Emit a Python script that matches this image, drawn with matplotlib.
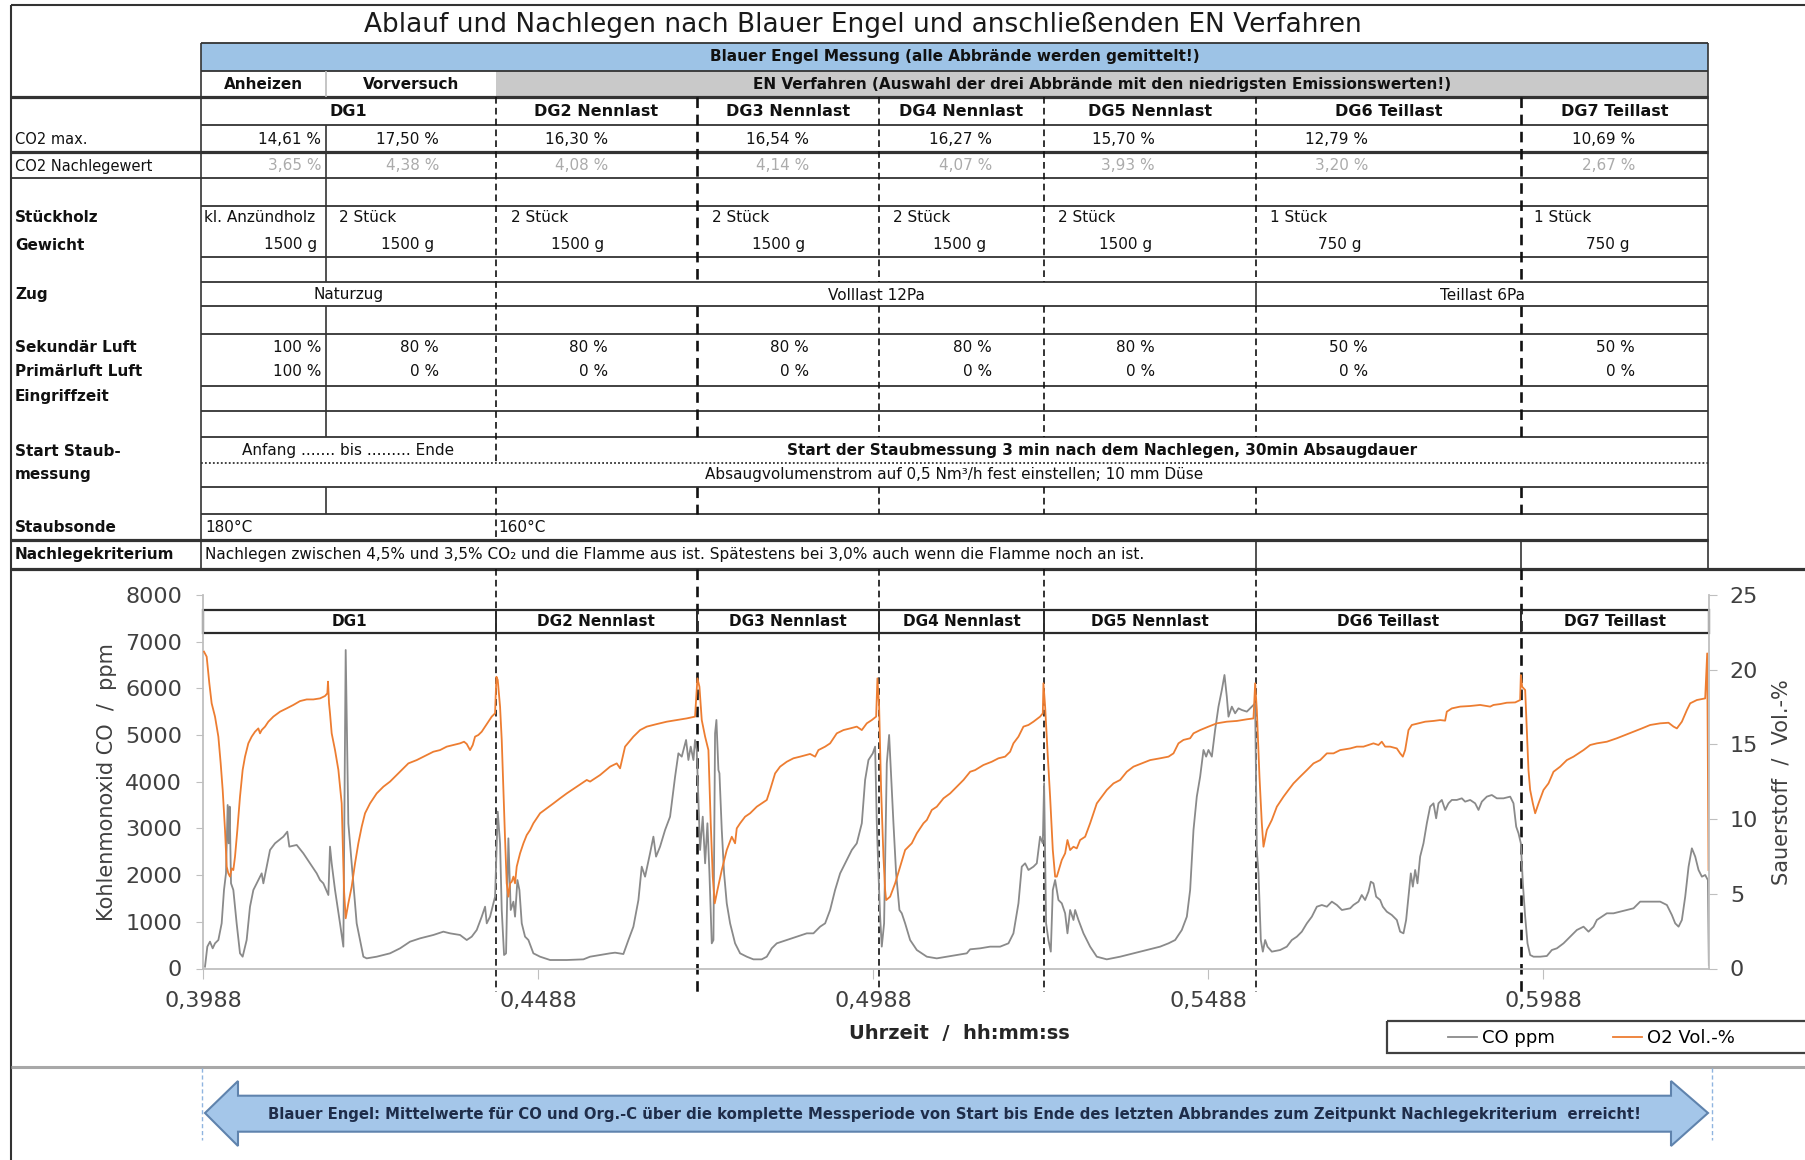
"""Ablauf und Nachlegen nach Blauer Engel / EN Verfahren - Tabelle + CO/O2 Verlauf"""
import matplotlib
matplotlib.use("Agg")
import matplotlib.pyplot as plt
from matplotlib.patches import Rectangle, Polygon
from matplotlib.ticker import FuncFormatter, MultipleLocator

plt.rcParams["font.family"] = ["DejaVu Sans"]

# --- Messwerte, Zeit in Minuten nach 0,3988 (Excel-Tagesbruchteil) ---
T0 = 0.3988

co_min = [0.43, 0.93, 1.50, 2.08, 2.58, 3.30, 4.01, 4.51, 4.94, 5.30, 5.52, 5.73, 6.02, 6.52, 7.23, 7.95, 8.52,
          9.38, 10.10, 10.82, 11.89, 12.61, 12.97, 13.68, 14.40, 15.47, 17.27, 18.12, 18.55, 20.13, 21.56, 23.00,
          24.43, 25.15, 25.86, 26.94, 27.29, 27.65, 28.37, 29.44, 30.16, 30.66, 31.23, 33.02, 34.46, 35.17, 37.32,
          40.19, 42.34, 44.49, 46.64, 49.50, 51.65, 53.09, 55.23, 56.67, 57.74, 58.82, 59.89, 60.61, 60.97, 61.68,
          62.40, 62.76, 63.33, 63.83, 64.19, 64.69, 65.12, 65.62, 66.12, 66.70, 67.05, 67.56, 67.99, 68.49, 69.20,
          69.92, 70.99, 72.43, 74.58, 78.16, 81.74,
          83.17, 85.32, 87.47, 88.54, 90.33, 91.41, 92.48, 93.56, 94.27, 94.99, 96.06, 96.78, 97.35, 98.21, 99.29,
          100.36, 101.44, 102.15, 102.87, 103.80, 104.30, 104.80, 105.38, 105.73, 106.09, 106.45, 106.81, 107.38,
          107.89, 108.39, 108.82, 109.32, 109.68, 110.03, 110.32, 110.75, 110.97, 111.47, 111.97, 112.54, 113.26,
          114.33, 115.41, 116.84, 118.27, 120.06, 121.14, 122.21, 123.29, 125.44, 127.59, 129.74, 131.17, 132.60,
          133.68, 134.75, 135.82, 136.90, 138.33, 139.41, 140.48, 141.56, 142.27, 142.99, 143.92, 144.42, 144.78,
          145.14, 145.50, 145.85, 146.35, 146.93, 147.43, 147.86, 148.36, 148.93, 149.65, 150.15, 150.87, 151.94,
          153.38, 155.53, 157.67, 159.82, 161.97, 164.12,
          164.83, 166.98, 169.13, 171.28, 173.07, 174.14, 175.22, 175.93, 176.65, 177.37, 178.44, 179.16, 179.87,
          180.45, 180.73, 181.16, 181.66, 182.17, 182.60, 183.10, 183.81, 184.53, 185.25, 185.75, 186.32, 187.04,
          187.40, 188.11, 189.19, 190.62, 192.05, 194.20, 197.07, 199.93, 202.80, 205.66, 207.46, 208.89, 210.32,
          211.40, 212.11, 212.83, 213.54, 214.26, 214.98, 215.55, 216.05, 216.77, 217.48, 218.20, 218.92, 219.49,
          219.99, 220.35, 221.07, 221.78, 222.50, 223.22, 224.29, 225.36, 226.08, 226.44, 226.80, 227.30, 227.73,
          228.23, 228.73, 229.66, 231.45, 232.88, 233.96, 235.04, 236.11, 237.19, 238.26, 239.34, 240.41, 241.49,
          242.56, 243.64, 244.71, 246.50,
          247.20, 248.28, 248.99, 249.71, 250.43, 250.93, 251.50, 252.08, 252.94, 253.51, 254.37, 255.44, 256.52,
          257.23, 257.95, 258.52, 259.03, 259.53, 259.96, 260.46, 260.96, 261.53, 262.25, 262.97, 263.68, 264.40,
          264.97, 265.47, 266.19, 266.91, 267.62, 268.34, 269.41, 270.49, 271.20, 272.28, 273.35, 274.07, 274.79,
          275.86, 276.93, 278.01, 279.44, 280.88, 281.59, 282.17, 282.67, 283.17, 283.60, 284.10, 284.60, 285.17,
          285.89, 287.32, 288.76, 289.83, 290.91, 292.34, 293.77, 295.21, 296.64, 297.71, 298.79, 299.50, 300.58,
          301.65, 303.08, 304.51, 305.95, 307.38, 308.81, 310.96, 313.11, 314.55, 315.62, 316.34, 317.06, 317.77,
          318.49, 319.21, 319.92, 320.64, 321.35, 322.07, 322.78, 323.36, 323.57]
co_ppm = [39, 468, 575, 432, 539, 610, 967, 1681, 2038, 3502, 2681, 3467, 1824, 1681, 967, 325, 253,
          610, 1324, 1681, 1895, 2038, 1824, 2181, 2538, 2681, 2824, 2931, 2610, 2646, 2467, 2253,
          2038, 1895, 1824, 1574, 2610, 2253, 1681, 967, 468, 6822, 3109, 967, 253, 217, 253,
          325, 432, 575, 646, 718, 789, 753, 718, 610, 682, 825, 1110, 1324, 967, 1110,
          1396, 1539, 3359, 2681, 1253, 289, 325, 2788, 1253, 1432, 1110, 1895, 1681, 967, 682,
          610, 325, 253, 182, 182, 196,
          253, 289, 325, 339, 310, 610, 896, 1467, 2181, 1967, 2467, 2824, 2396, 2610, 2967,
          3252, 4109, 4609, 4538, 4895, 4466, 4752, 4466, 4895, 4681, 3610, 2538, 3252,
          2253, 3110, 2038, 539, 610, 5037, 5323, 4252, 4181, 2967, 2038, 1396, 967,
          539, 325, 253, 196, 196, 253, 432, 539, 610, 682, 753, 753, 896,
          967, 1253, 1681, 2038, 2324, 2538, 2681, 3110, 4038, 4466, 4609, 4752, 3110,
          2038, 1110, 468, 967, 4395, 5002, 4109, 3110, 2038, 1253, 1182, 967, 610,
          396, 253, 217, 253, 289, 325,
          411, 432, 468, 468, 539, 753, 1396, 2181, 2253, 2110, 2181, 2253, 2824,
          2681, 3967, 967, 610, 361, 1681, 1895, 1467, 1396, 1182, 753, 1253, 1039,
          1253, 1039, 753, 468, 253, 196, 253, 325, 396, 468, 539, 610, 825,
          1110, 1681, 2967, 3681, 4109, 4681, 4538, 4681, 4538, 5109, 5609, 5966, 6287,
          5823, 5394, 5609, 5466, 5573, 5537, 5502, 5609, 5680, 2538, 2038, 610, 361,
          610, 468, 361, 396, 468, 610, 682, 789, 967, 1110, 1324, 1360, 1324,
          1432, 1360, 1253, 1289,
          1360, 1432, 1574, 1467, 1646, 1860, 1824, 1539, 1467, 1324, 1217, 1146, 1039,
          789, 753, 1039, 1539, 2038, 1753, 2110, 1824, 2396, 2681, 3110, 3467, 3538,
          3217, 3538, 3610, 3396, 3538, 3610, 3610, 3645, 3574, 3610, 3538, 3396, 3574,
          3681, 3716, 3645, 3645, 3681, 3538, 3038, 2895, 2681, 1824, 1110, 539, 289,
          253, 253, 268, 396, 432, 539, 682, 825, 896, 789, 896, 1039, 1110,
          1182, 1182, 1217, 1253, 1289, 1432, 1432, 1432, 1360, 1146, 967, 896, 1039,
          1539, 2181, 2574, 2396, 2110, 1967, 2003, 1895, 75]

o2_min = [0.21, 0.79, 1.36, 1.86, 2.58, 3.30, 3.80, 4.23, 4.73, 5.09, 5.44, 5.80, 6.16, 6.52, 6.88, 7.38, 7.95,
          8.52, 9.03, 9.74, 10.46, 11.18, 11.89, 12.25, 12.61, 13.33, 14.04, 15.12, 16.55, 17.98, 19.41, 20.85,
          22.28, 23.71, 25.15, 26.22, 26.72, 26.86, 27.08, 27.29, 27.65, 28.37, 29.09, 29.80, 30.30, 30.66, 31.23,
          31.95, 32.67, 33.38, 34.10, 34.82, 35.89, 37.32, 38.76, 40.19, 41.62, 43.06, 44.13, 45.92, 48.07, 49.50,
          50.93, 52.37, 53.80, 55.23, 56.09, 56.67, 57.38, 57.96, 58.46, 59.17, 59.89, 60.61, 61.32, 62.04, 62.76,
          63.04, 63.33, 63.83, 64.19, 64.55, 64.91, 65.26, 65.62, 65.98, 66.34, 66.70, 67.05, 67.41, 68.13, 68.85,
          69.56, 70.28, 70.99, 72.43, 73.86, 75.29, 76.72, 78.16, 80.31, 82.46,
          83.17, 85.32, 87.47, 88.90, 89.62, 90.69, 92.48, 93.92, 95.35, 97.50, 99.65, 101.80, 103.94, 105.73,
          106.24, 106.67, 107.17, 107.89, 108.60, 109.10, 109.53, 109.96, 110.54, 111.47, 112.54, 113.62, 114.33,
          114.69, 115.41, 116.48, 117.56, 118.27, 118.99, 120.06, 121.14, 121.85, 122.93, 124.00, 125.44, 126.87,
          128.30, 130.45, 131.53, 132.24, 133.68, 134.75, 136.18, 137.62, 139.05, 140.48, 141.56, 142.63, 143.71,
          144.64, 144.92, 145.28, 145.71, 146.21, 146.57, 146.79, 147.65, 148.72, 149.79, 150.87, 151.58, 152.30,
          153.38, 154.81, 155.53, 156.60, 157.67, 159.11, 160.54, 161.97, 163.41, 164.84,
          165.90, 167.69, 169.49, 170.92, 172.35, 173.43, 174.14, 175.22, 176.29, 177.37, 178.44, 179.87, 180.45,
          180.59, 180.95, 181.45, 182.02, 182.60, 183.10, 183.46, 183.89, 184.53, 185.25, 185.75, 186.32, 187.04,
          187.75, 188.47, 189.55, 190.62, 191.34, 192.05, 193.13, 194.20, 195.64, 197.07, 198.50, 199.93, 201.72,
          203.51, 205.66, 207.46, 208.53, 209.60, 210.68, 212.11, 212.83, 214.26, 216.05, 217.84, 219.99, 222.14,
          224.29, 225.72, 226.08, 226.44, 227.01, 227.51, 227.87, 228.59, 229.66, 230.74, 232.17, 233.24, 234.32,
          235.75, 237.19, 238.62, 240.05, 241.49, 242.92, 244.35, 246.50,
          247.92, 249.35, 250.43, 251.50, 252.58, 253.29, 254.01, 255.09, 256.52, 257.23, 257.81, 258.31, 259.03,
          259.74, 261.17, 262.61, 264.40, 265.83, 266.90, 267.26, 268.34, 270.13, 272.28, 274.43, 276.58, 277.29,
          278.73, 280.16, 281.95, 283.02, 283.17, 283.45, 284.10, 284.46, 284.81, 285.17, 285.75, 286.25, 286.97,
          288.04, 289.11, 290.19, 291.62, 293.05, 294.49, 295.56, 296.64, 298.07, 299.50, 301.65, 303.80, 305.59,
          307.38, 309.17, 310.96, 313.11, 314.90, 315.98, 316.70, 317.77, 318.85, 319.56, 320.99, 322.78, 323.21,
          323.50]
o2_vol = [21.21, 20.87, 19.09, 17.75, 16.86, 15.52, 13.73, 11.95, 9.27, 6.82, 6.37, 6.15, 6.70, 6.59, 7.49, 9.27, 11.50,
          13.29, 14.18, 15.07, 15.52, 15.85, 16.07, 15.74, 15.96, 16.19, 16.52, 16.86, 17.19, 17.41, 17.64, 17.90,
          18.01, 18.01, 18.08, 18.24, 18.42, 19.20, 17.75, 17.08, 15.74, 14.62, 13.29, 11.05, 5.25, 3.36, 4.36,
          5.48, 7.04, 8.38, 9.49, 10.39, 11.05, 11.72, 12.17, 12.51, 12.95, 13.40, 13.73, 13.95, 14.29, 14.51,
          14.62, 14.85, 14.96, 15.07, 15.18, 15.03, 14.62, 14.96, 15.52, 15.63, 15.85, 16.19, 16.52, 16.86, 17.08,
          19.53, 19.31, 17.53, 15.30, 11.95, 8.60, 5.70, 4.81, 5.70, 5.81, 6.15, 5.70, 6.82, 7.71, 8.38,
          8.93, 9.27, 9.72, 10.39, 10.72, 11.05, 11.39, 11.72, 12.17, 12.62,
          12.51, 12.95, 13.51, 13.73, 13.40, 14.85, 15.52, 15.96, 16.19, 16.36, 16.52, 16.63, 16.74, 16.86,
          19.42, 18.86, 16.63, 15.52, 14.62, 9.72, 6.15, 4.36, 5.25, 6.59, 7.93, 8.82, 8.38,
          9.38, 9.72, 10.16, 10.39, 10.61, 10.83, 11.05, 11.28, 11.95, 13.06, 13.51, 13.84, 14.07,
          14.18, 14.36, 14.18, 14.62, 14.85, 15.07, 15.74, 15.96, 16.07, 16.19, 15.96, 16.41, 16.63,
          16.86, 19.42, 17.53, 11.95, 7.49, 5.25, 4.58, 4.81, 5.70, 6.82, 7.93, 8.15, 8.38,
          9.05, 9.72, 9.94, 10.61, 10.83, 11.39, 11.72, 12.17, 12.62, 13.17,
          13.28, 13.62, 13.84, 14.07, 14.18, 14.51, 15.07, 15.52, 16.19, 16.30, 16.52, 16.86, 17.08,
          19.09, 17.53, 14.62, 11.50, 7.93, 6.15, 6.15, 6.59, 7.26, 7.71, 8.60, 7.93, 8.15,
          8.04, 8.60, 8.82, 9.72, 10.39, 11.05, 11.50, 11.95, 12.39, 12.62, 13.17, 13.51, 13.73,
          13.95, 14.07, 14.18, 14.40, 15.07, 15.30, 15.41, 15.74, 15.96, 16.19, 16.41, 16.52, 16.57,
          16.68, 16.74, 19.09, 17.30, 12.84, 9.72, 8.15, 9.27, 9.94, 10.83, 11.50, 11.95, 12.39,
          12.84, 13.28, 13.73, 13.95, 14.40, 14.40, 14.62, 14.73,
          14.85, 14.85, 14.96, 15.07, 14.96, 15.18, 14.85, 14.85, 14.73, 14.40, 14.18, 14.62, 15.96,
          16.30, 16.41, 16.52, 16.57, 16.63, 16.59, 17.19, 17.41, 17.53, 17.57, 17.64, 17.53, 17.64,
          17.70, 17.79, 17.81, 17.97, 19.64, 18.86, 18.64, 15.96, 13.28, 11.95, 11.05, 10.39, 11.05,
          11.95, 12.39, 13.17, 13.51, 13.95, 14.18, 14.40, 14.62, 14.96, 15.07, 15.18, 15.41, 15.63,
          15.85, 16.07, 16.30, 16.41, 16.45, 16.19, 16.07, 16.52, 17.30, 17.75, 17.97, 18.08, 21.09,
          6.59]

# --- Tabelleninhalt ---
title = "Ablauf und Nachlegen nach Blauer Engel und anschließenden EN Verfahren"
dg_names = ["DG1", "DG2 Nennlast", "DG3 Nennlast", "DG4 Nennlast", "DG5 Nennlast", "DG6 Teillast", "DG7 Teillast"]
co2_max = ["14,61 %", "17,50 %", "16,30 %", "16,54 %", "16,27 %", "15,70 %", "12,79 %", "10,69 %"]
co2_nach = ["3,65 %", "4,38 %", "4,08 %", "4,14 %", "4,07 %", "3,93 %", "3,20 %", "2,67 %"]
stueckholz = ["kl. Anzündholz", "2 Stück", "2 Stück", "2 Stück", "2 Stück", "2 Stück", "1 Stück", "1 Stück"]
gewicht = ["1500 g", "1500 g", "1500 g", "1500 g", "1500 g", "1500 g", "750 g", "750 g"]
sek_luft = ["100 %", "80 %", "80 %", "80 %", "80 %", "80 %", "50 %", "50 %"]
prim_luft = ["100 %", "0 %", "0 %", "0 %", "0 %", "0 %", "0 %", "0 %"]
x_ticks_min = [0, 72, 144, 216, 288]

W, H = 1805, 1160
fig = plt.figure(figsize=(W / 100, H / 100), dpi=100)
bg = fig.add_axes([0, 0, 1, 1])
bg.axis("off")

LINE = "#333333"
DASH = (0, (4, 2.5))


def hl(y, x0=201, x1=1708, lw=1.3, ls="-", c=LINE):
    bg.plot([x0, x1], [y, y], color=c, lw=lw, ls=ls, solid_capstyle="butt")


def vl(x, y0, y1, lw=1.2, ls="-", c=LINE):
    bg.plot([x, x], [y0, y1], color=c, lw=lw, ls=ls, solid_capstyle="butt", dash_capstyle="butt")


def tx(x, y, s, size=11, weight="normal", ha="left", c="#111111"):
    bg.text(x, y, s, fontsize=size, fontweight=weight, ha=ha, va="center", color=c)


# Farbbänder
bg.add_patch(Rectangle((201, 43), 1507, 27.7, fc="#9DC3E6", ec="none"))
bg.add_patch(Rectangle((496, 70.7), 1212, 26.3, fc="#C9C9C9", ec="none"))

# Linien Tabelle
hl(5, 11, W, lw=1.5)
for y in [43, 70.7, 125, 205.7, 256.7, 281.7, 306, 334, 386, 411, 436.7, 487.3, 514.3]:
    hl(y)
for y in [97, 151.7, 540]:
    hl(y, 11, 1708, lw=2.3)
hl(178, 11, 1708)
hl(569.3, 11, W, lw=2.3)
hl(462.7, ls=(0, (1, 1.2)), lw=1.3)
vl(11, 5, H, lw=1.5)
vl(201, 43, 569.3)
vl(1708, 43, 569.3)
vl(326, 70.7, 97, c="#bbbbbb")
for a, b in [(125, 281.7), (306, 436.7), (487.3, 514.3)]:
    vl(326, a, b)

dg_x = [496, 696.5, 879, 1044, 1256, 1521]
for x in dg_x:
    lw = 1.9 if x in (696.5, 1521) else 1.2
    segs = [(97, 281.7), (306, 436.7), (487.3, 514.3), (569.3, 992)]
    if x == 496:
        segs = [(97, 462.7), (487.3, 540), (569.3, 992)]
    for a, b in segs:
        vl(x, a, b, lw=lw, ls=DASH, c="#111111")
vl(1256, 281.7, 306)
vl(1256, 540, 569.3)
vl(1521, 540, 569.3)

# Texte Tabelle
tx(863, 25, title, 19, ha="center", c="#1a1a1a")
tx(954.5, 57, "Blauer Engel Messung (alle Abbrände werden gemittelt!)", 11, "bold", "center")
tx(263.5, 84.5, "Anheizen", 11, "bold", "center")
tx(411, 84.5, "Vorversuch", 11, "bold", "center")
tx(1102, 84.5, "EN Verfahren (Auswahl der drei Abbrände mit den niedrigsten Emissionswerten!)", 11, "bold", "center")

col_edges = [201] + dg_x + [1708]
for i, name in enumerate(dg_names):
    tx((col_edges[i] + col_edges[i + 1]) / 2, 112, name, 11.5, "bold", "center")

r_pct = [321, 439, 608, 809, 992, 1155, 1368, 1635]
r_g = [317, 434, 604, 805, 986, 1152, 1362, 1629]
l_st = [204, 339, 511, 712, 893, 1058, 1270, 1534]
for i in range(8):
    tx(r_pct[i], 139, co2_max[i], 11, ha="right")
    tx(r_pct[i], 166, co2_nach[i], 11, ha="right", c="#ababab")
    tx(l_st[i], 218, stueckholz[i], 11)
    tx(r_g[i], 245, gewicht[i], 11, ha="right")
    tx(r_pct[i], 347, sek_luft[i], 11, ha="right")
    tx(r_pct[i], 372, prim_luft[i], 11, ha="right")

tx(15, 139, "CO2 max.", 10.5)
tx(15, 166, "CO2 Nachlegewert", 10.5)
for y, s in [(218, "Stückholz"), (245, "Gewicht"), (295, "Zug"), (347, "Sekundär Luft"),
             (372, "Primärluft Luft"), (397, "Eingriffzeit"), (451, "Start Staub-"), (475, "messung"),
             (527, "Staubsonde"), (555, "Nachlegekriterium")]:
    tx(15, y, s, 11, "bold")

tx(348.5, 295, "Naturzug", 11, ha="center")
tx(876, 295, "Volllast 12Pa", 11, ha="center")
tx(1482, 295, "Teillast 6Pa", 11, ha="center")
tx(348.5, 451, "Anfang ....... bis ......... Ende", 11, ha="center")
tx(1102, 451, "Start der Staubmessung 3 min nach dem Nachlegen, 30min Absaugdauer", 11, "bold", "center")
tx(954.5, 475, "Absaugvolumenstrom auf 0,5 Nm³/h fest einstellen; 10 mm Düse", 11, ha="center")
tx(205, 527, "180°C", 11)
tx(498, 527, "160°C", 11)
tx(205, 555, "Nachlegen zwischen 4,5% und 3,5% CO₂ und die Flamme aus ist. Spätestens bei 3,0% auch wenn die Flamme noch an ist.", 11)

# Kopfzeile im Diagramm
bg.add_patch(Rectangle((203, 610), 1506, 23, fc="white", ec="#2a2a2a", lw=1.6, zorder=1))
chart_edges = [203] + dg_x + [1709]
for x in dg_x:
    vl(x, 610, 633, lw=1.4, c="#2a2a2a")
for i, name in enumerate(dg_names):
    tx((chart_edges[i] + chart_edges[i + 1]) / 2, 622, name, 11, "bold", "center")

# Legende Rahmen, Trennlinie, Pfeil
bg.add_patch(Rectangle((1387, 1021), 440, 32, fill=False, ec="#404040", lw=1.6))
hl(1067, 11, W, lw=2.2, c="#a8a8a8")
for x in [201.5, 1712]:
    vl(x, 1068, 1140, lw=1.0, ls=(0, (3, 2)), c="#8fb4e0")
arrow = Polygon([(205, 1113), (238, 1081), (238, 1095.7), (1671, 1095.7), (1671, 1081), (1708, 1113),
                 (1671, 1146), (1671, 1131.7), (238, 1131.7), (238, 1146)],
                closed=True, fc="#A4C6E9", ec="#5F83AD", lw=1.5)
bg.add_patch(arrow)
tx(955, 1114, "Blauer Engel: Mittelwerte für CO und Org.-C über die komplette Messperiode von Start bis Ende "
              "des letzten Abbrandes zum Zeitpunkt Nachlegekriterium  erreicht!", 10.7, "bold", "center", "#1f2d4a")

bg.set_xlim(0, W)
bg.set_ylim(H, 0)

# --- Diagramm ---
ax = fig.add_axes([203 / W, 1 - 968.5 / H, (1709 - 203) / W, (968.5 - 595) / H])
ax.patch.set_visible(False)
l_co, = ax.plot(co_min, co_ppm, color="#8a8a8a", lw=1.3, label="CO ppm")
ax.set_xlim(0, 323.6)
ax.set_ylim(0, 8000)
ax.yaxis.set_major_locator(MultipleLocator(1000))
ax.set_xticks(x_ticks_min)
ax.xaxis.set_major_formatter(FuncFormatter(lambda m, p: f"{T0 + m / 1440:.4f}".replace(".", ",")))
for s in ["top", "right"]:
    ax.spines[s].set_visible(False)
for s in ["left", "bottom"]:
    ax.spines[s].set_color("#bfbfbf")
    ax.spines[s].set_linewidth(1.3)
ax.tick_params(axis="y", direction="out", length=5, color="#bfbfbf", labelsize=16, labelcolor="#404040", pad=10)
ax.tick_params(axis="x", direction="out", length=7, color="#bfbfbf", labelsize=16, labelcolor="#404040", pad=9)
ax.set_ylabel("Kohlenmonoxid CO  /  ppm", fontsize=15, color="#404040")
ax.yaxis.set_label_coords(-0.0571, 0.5)
ax.set_xlabel("Uhrzeit  /  hh:mm:ss", fontsize=14, fontweight="bold", color="#262626")
ax.xaxis.set_label_coords(0.502, -0.148)

ax2 = ax.twinx()
ax2.patch.set_visible(False)
l_o2, = ax2.plot(o2_min, o2_vol, color="#ED7D31", lw=1.3, label="O2 Vol.-%")
ax2.set_ylim(0, 25)
ax2.set_yticks([0, 5, 10, 15, 20, 25])
for s in ["top", "left", "bottom"]:
    ax2.spines[s].set_visible(False)
ax2.spines["right"].set_color("#bfbfbf")
ax2.spines["right"].set_linewidth(1.3)
ax2.tick_params(axis="y", direction="out", length=6, color="#bfbfbf", labelsize=16, labelcolor="#404040", pad=9)
ax2.set_ylabel("Sauerstoff  /  Vol.-%", fontsize=15, color="#404040")
ax2.yaxis.set_label_coords(1.0412, 0.5)

fig.legend(handles=[l_co, l_o2], labels=["CO ppm", "O2 Vol.-%"], loc="center left",
           bbox_to_anchor=(1448 / W, 1 - 1038 / H), ncol=2, frameon=False, fontsize=13,
           handlelength=1.6, handletextpad=0.3, columnspacing=3.2, borderaxespad=0, borderpad=0)

fig.savefig("out.png", dpi=100)
